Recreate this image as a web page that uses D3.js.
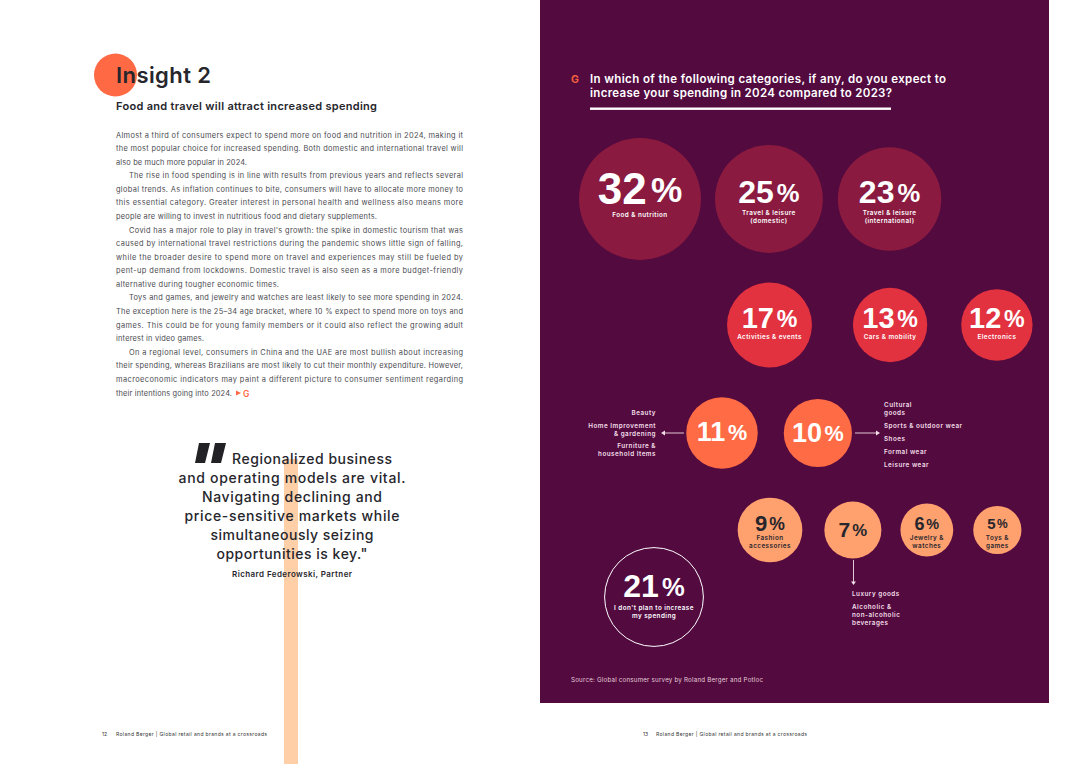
<!DOCTYPE html>
<html>
<head>
<meta charset="utf-8">
<script src="https://cdn.jsdelivr.net/npm/d3@7"></script>
<style>
  html, body { margin: 0; padding: 0; background: #fff; }
  svg { display: block; font-family: Inter, "Open Sans", sans-serif; }
</style>
</head>
<body>
<svg id="page" width="1080" height="764"></svg>
<script>
// Survey results
const categories = ["Food & nutrition", "Travel & leisure\n(domestic)", "Travel & leisure\n(international)",
    "Activities & events", "Cars & mobility", "Electronics",
    "", "",
    "Fashion\naccessories", "", "Jewelry &\nwatches", "Toys &\ngames",
    "I don't plan to increase\nmy spending"];
const values = [32, 25, 23, 17, 13, 12, 11, 10, 9, 7, 6, 5, 21];
const tiers = ["top", "top", "top", "high", "high", "high", "mid", "mid", "low", "low", "low", "low", "none"];

// Sub categories hanging off the 11, 10 and 7 percent bubbles
const list11 = ["Beauty", "Home Improvement\n& gardening", "Furniture &\nhousehold Items"];
const list10 = ["Cultural\ngoods", "Sports & outdoor wear", "Shoes", "Formal wear", "Leisure wear"];
const list7 = ["Luxury goods", "Alcoholic &\nnon-alcoholic\nbeverages"];

const bodyLines = [
    "Almost a third of consumers expect to spend more on food and nutrition in 2024, making it",
    "the most popular choice for increased spending. Both domestic and international travel will",
    "also be much more popular in 2024.",
    "The rise in food spending is in line with results from previous years and reflects several",
    "global trends. As inflation continues to bite, consumers will have to allocate more money to",
    "this essential category. Greater interest in personal health and wellness also means more",
    "people are willing to invest in nutritious food and dietary supplements.",
    "Covid has a major role to play in travel's growth: the spike in domestic tourism that was",
    "caused by international travel restrictions during the pandemic shows little sign of falling,",
    "while the broader desire to spend more on travel and experiences may still be fueled by",
    "pent-up demand from lockdowns. Domestic travel is also seen as a more budget-friendly",
    "alternative during tougher economic times.",
    "Toys and games, and jewelry and watches are least likely to see more spending in 2024.",
    "The exception here is the 25–34 age bracket, where 10 % expect to spend more on toys and",
    "games. This could be for young family members or it could also reflect the growing adult",
    "interest in video games.",
    "On a regional level, consumers in China and the UAE are most bullish about increasing",
    "their spending, whereas Brazilians are most likely to cut their monthly expenditure. However,",
    "macroeconomic indicators may paint a different picture to consumer sentiment regarding",
    "their intentions going into 2024."
];
const quoteLines = ["Regionalized business", "and operating models are vital.", "Navigating declining and",
    "price-sensitive markets while", "simultaneously seizing", "opportunities is key.\""];
const headingLines = ["In which of the following categories, if any, do you expect to",
    "increase your spending in 2024 compared to 2023?"];

// Layout only from here on
const INK = "#26262c";
const PLUM = "#520a3f";
const LIST_INK = "#f3dfe8";
const tierColour = d3.scaleOrdinal(["top", "high", "mid", "low", "none"],
    ["#8a1a3f", "#e2323f", "#ff6b45", "#ffa06f", "none"]);
// bubble area follows the value, the red bubbles are drawn a bit smaller in the original
const radiusScale = d3.scaleSqrt().domain([0, 32]).range([0, 61]);
const tierShrink = d3.scaleOrdinal(["top", "high", "mid", "low", "none"], [1, 0.955, 1, 1, 1]);
const radius = i => radiusScale(values[i]) * tierShrink(tiers[i]);

// each row packs its bubbles left to right: first centre, then the gaps between edges
const rows = [
    { y: 199, x0: 640, gaps: [14, 15], items: [0, 1, 2] },
    { y: 325, x0: 769.5, gaps: [41, 34], items: [3, 4, 5] },
    { y: 433, x0: 722, gaps: [26], items: [6, 7] },
    { y: 530, x0: 770, gaps: [22, 19, 20], items: [8, 9, 10, 11] },
    { y: 597, x0: 654, gaps: [], items: [12] }
];
// per bubble: size of the number, baseline offset, offset of first label line
const numberStyle = [[44, 5, 18], [32, 4, 16], [32, 4, 16], [29, 3, 14], [29, 3, 14], [29, 3, 14],
    [27, 8, 0], [27, 9, 0], [22, 1, 10], [21, 7, 0], [18, 0, 10], [15, -1, 9.5], [32, 0, 13]];

const bubbles = [];
rows.forEach(row => {
    let x = row.x0;
    row.items.forEach((idx, k) => {
        if (k > 0) x += radius(row.items[k - 1]) + row.gaps[k - 1] + radius(idx);
        bubbles.push({ idx, x, y: row.y, r: radius(idx) });
    });
});

const svg = d3.select("#page");
svg.append("rect").attr("width", 1080).attr("height", 764).attr("fill", "#fff");

// left page: accent strip and dot sit behind the text
svg.append("rect").attr("x", 284).attr("y", 459).attr("width", 14).attr("height", 305).attr("fill", "#ffcfa8");
svg.append("circle").attr("cx", 115.5).attr("cy", 75).attr("r", 21.5).attr("fill", "#ff6a45");

svg.append("text").attr("x", 116).attr("y", 83).attr("font-size", 22).attr("font-weight", 600)
    .attr("fill", INK).attr("textLength", 95).text("Insight 2");
svg.append("text").attr("x", 116).attr("y", 110).attr("font-size", 11).attr("font-weight", 600)
    .attr("fill", INK).attr("textLength", 261).text("Food and travel will attract increased spending");

// justified body copy, short last lines keep their own end point
const indented = new Set([3, 7, 12, 16]);
const lineEnds = new Map([[2, 247], [6, 377], [11, 279], [15, 204], [19, 232]]);
const bodyY = d3.scaleLinear().domain([0, bodyLines.length - 1]).range([137.5, 395.5]);
svg.append("g").selectAll("text").data(bodyLines).enter().append("text")
    .attr("x", (d, i) => indented.has(i) ? 129 : 116)
    .attr("y", (d, i) => bodyY(i))
    .attr("font-size", 7.4)
    .attr("fill", "#4a4a50")
    .attr("lengthAdjust", "spacing")
    .attr("textLength", (d, i) => (lineEnds.get(i) || 463) - (indented.has(i) ? 129 : 116))
    .text(d => d);
svg.append("path").attr("d", "M236,390.5 L241,393 L236,395.5 Z").attr("fill", "#ff6a45");
svg.append("text").attr("x", 243).attr("y", 396.5).attr("font-size", 8.5).attr("font-weight", 600)
    .attr("fill", "#ff6a45").text("G");

// quote
svg.append("path").attr("d", "M199,443 H210 L205,463 H195 Z M215,443 H226 L221,463 H211 Z").attr("fill", "#222226");
const quoteWidths = [160, 227, 180, 215, 163, 151];
svg.append("g").selectAll("text").data(quoteLines).enter().append("text")
    .attr("x", (d, i) => i === 0 ? 232 : 292)
    .attr("y", (d, i) => 464 + i * 19)
    .attr("text-anchor", (d, i) => i === 0 ? "start" : "middle")
    .attr("font-size", 14)
    .attr("font-weight", 500)
    .attr("fill", INK)
    .attr("textLength", (d, i) => quoteWidths[i])
    .text(d => d);
svg.append("text").attr("x", 292).attr("y", 577).attr("text-anchor", "middle").attr("font-size", 8)
    .attr("font-weight", 600).attr("fill", INK).attr("textLength", 120).text("Richard Federowski, Partner");

// right page panel
svg.append("rect").attr("x", 540).attr("y", 0).attr("width", 509).attr("height", 703).attr("fill", PLUM);
svg.append("text").attr("x", 571).attr("y", 83).attr("font-size", 10.5).attr("font-weight", 700)
    .attr("fill", "#f0603c").text("G");
const headingWidths = [356, 302];
svg.append("g").selectAll("text").data(headingLines).enter().append("text")
    .attr("x", 590).attr("y", (d, i) => 83 + i * 13.5)
    .attr("font-size", 11.5).attr("font-weight", 600).attr("fill", "#fff")
    .attr("textLength", (d, i) => headingWidths[i])
    .text(d => d);
svg.append("rect").attr("x", 590).attr("y", 107.5).attr("width", 301).attr("height", 2.4).attr("fill", "#fff");

// bubbles
const bubble = svg.append("g").selectAll("g").data(bubbles).enter().append("g")
    .attr("transform", d => `translate(${d.x},${d.y})`);
bubble.append("circle")
    .attr("r", d => d.r)
    .attr("fill", d => tierColour(tiers[d.idx]))
    .attr("stroke", d => tiers[d.idx] === "none" ? "#fff" : "none")
    .attr("stroke-width", 1);

const textColour = d => tiers[d.idx] === "low" ? "#26262c" : "#fff";
const number = bubble.append("text")
    .attr("text-anchor", "middle")
    .attr("y", d => numberStyle[d.idx][1])
    .attr("font-family", "'Liberation Sans', sans-serif")
    .attr("font-size", d => numberStyle[d.idx][0])
    .attr("font-weight", 700)
    .attr("fill", textColour);
number.append("tspan").text(d => values[d.idx]);
number.append("tspan").attr("dx", "0.12em").attr("font-size", "0.8em").attr("dy", "-0.05em").text("%");

bubble.each(function (d) {
    const lines = categories[d.idx] ? categories[d.idx].split("\n") : [];
    d3.select(this).selectAll("text.label").data(lines).enter().append("text")
        .attr("class", "label")
        .attr("text-anchor", "middle")
        .attr("y", (l, i) => numberStyle[d.idx][2] + i * 8)
        .attr("font-size", 6.3)
        .attr("font-weight", 600)
        .attr("letter-spacing", 0.45)
        .attr("fill", textColour(d))
        .text(l => l);
});

// sub category lists and their arrows
function drawList(items, x, anchor, ys) {
    const g = svg.append("g");
    items.forEach((item, i) => {
        item.split("\n").forEach((line, k) => {
            g.append("text").attr("x", x).attr("y", ys[i] + k * 8)
                .attr("text-anchor", anchor).attr("font-size", 6.3).attr("font-weight", 600)
                .attr("letter-spacing", 0.5).attr("fill", LIST_INK).text(line);
        });
    });
}
drawList(list11, 656, "end", [414.5, 427.5, 447.5]);
drawList(list10, 884, "start", [407, 427.5, 440.5, 453.5, 466.5]);
drawList(list7, 852, "start", [595.5, 608.5]);

const arrowLine = d3.line();
const arrows = [
    { line: [[684, 433], [664, 433]], head: [[661, 433], [665, 430.5], [665, 435.5]] },
    { line: [[855, 433], [877, 433]], head: [[880, 433], [876, 430.5], [876, 435.5]] },
    { line: [[853.5, 560], [853.5, 582]], head: [[853.5, 585], [851, 581.5], [856, 581.5]] }
];
arrows.forEach(a => {
    svg.append("path").attr("d", arrowLine(a.line)).attr("stroke", LIST_INK).attr("stroke-width", 0.9).attr("fill", "none");
    svg.append("path").attr("d", arrowLine(a.head) + "Z").attr("fill", LIST_INK);
});

svg.append("text").attr("x", 571).attr("y", 681.5).attr("font-size", 6.2).attr("fill", "#e6cdd9")
    .attr("textLength", 192).text("Source: Global consumer survey by Roland Berger and Potloc");

// footers
const footer = "Roland Berger | Global retail and brands at a crossroads";
[[102, 116, "12"], [643, 656, "13"]].forEach(f => {
    svg.append("text").attr("x", f[0]).attr("y", 736).attr("font-size", 5).attr("fill", "#333").text(f[2]);
    svg.append("text").attr("x", f[1]).attr("y", 736).attr("font-size", 5).attr("fill", "#333")
        .attr("textLength", 151).text(footer);
});
</script>
</body>
</html>
